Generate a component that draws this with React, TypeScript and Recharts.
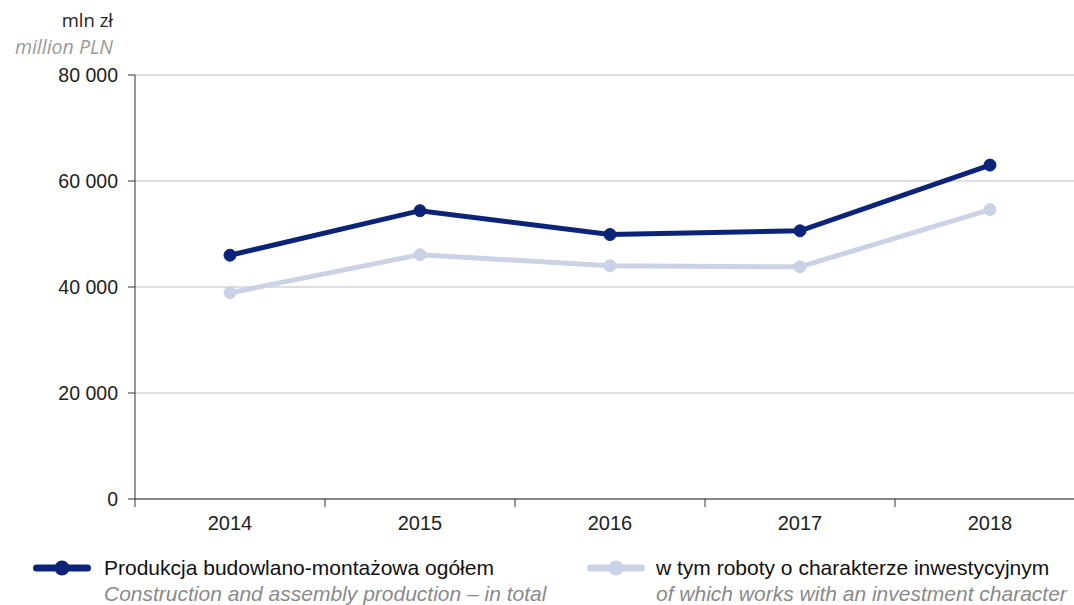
import React from "react";
import { LineChart, Line, XAxis, YAxis, CartesianGrid } from "recharts";

const years = ["2014", "2015", "2016", "2017", "2018"];
const totalProduction = [46000, 54400, 49900, 50600, 63000];
const investmentWorks = [38900, 46100, 44000, 43800, 54600];
const yTicks = [0, 20000, 40000, 60000, 80000];

const seriesNamesPl = ["Produkcja budowlano-montażowa ogółem", "w tym roboty o charakterze inwestycyjnym"];
const seriesNamesEn = ["Construction and assembly production – in total", "of which works with an investment character"];

const DARK = "#0b2479";
const LIGHT = "#cbd2e6";
const FONT = "Liberation Sans, Arial, sans-serif";

const data = years.map((y, i) => ({ year: y, total: totalProduction[i], invest: investmentWorks[i] }));

const fmt = (v: number) => (v === 0 ? "0" : `${Math.round(v / 1000)} 000`);

const XTick = (props: any) => {
  const { x, y, payload, index, visibleTicksCount } = props;
  const half = 95;
  return (
    <g>
      <line x1={x - half} x2={x - half} y1={y - 8} y2={y} stroke="#333" strokeWidth={1} />
      {index === (visibleTicksCount ?? 5) - 1 && (
        <line x1={x + half} x2={x + half} y1={y - 8} y2={y} stroke="#333" strokeWidth={1} />
      )}
      <text x={x} y={y + 23} textAnchor="middle" fontFamily={FONT} fontSize={20} fill="#222">
        {payload.value}
      </text>
    </g>
  );
};

const LegendBlock = () => {
  const items = [
    { color: DARK, iconLeft: 33, textLeft: 104 },
    { color: LIGHT, iconLeft: 587, textLeft: 656 },
  ];
  return (
    <>
      {items.map((it, i) => (
        <React.Fragment key={i}>
          <svg width={60} height={20} style={{ position: "absolute", left: it.iconLeft - 1, top: 558 }}>
            <line x1={4.5} x2={55.5} y1={10} y2={10} stroke={it.color} strokeWidth={7} strokeLinecap="round" />
            <circle cx={30} cy={10} r={7.5} fill={it.color} />
          </svg>
          <div style={{ position: "absolute", left: it.textLeft, top: 556, whiteSpace: "nowrap", fontFamily: FONT, fontSize: 21, color: "#111", lineHeight: "24px" }}>
            {seriesNamesPl[i]}
          </div>
          <div style={{ position: "absolute", left: it.textLeft, top: 582, whiteSpace: "nowrap", fontFamily: FONT, fontSize: 21, fontStyle: "italic", color: "#8a8a8a", lineHeight: "24px" }}>
            {seriesNamesEn[i]}
          </div>
        </React.Fragment>
      ))}
    </>
  );
};

export default function App() {
  return (
    <div style={{ position: "absolute", left: 0, top: 0, width: 1074, height: 605, overflow: "hidden", background: "#fff" }}>
      <div style={{ position: "absolute", right: 1074 - 113, top: 9, fontFamily: "Open Sans, sans-serif", fontSize: 18.5, lineHeight: "22px", color: "#222", whiteSpace: "nowrap", textAlign: "right" }}>
        mln zł
      </div>
      <div style={{ position: "absolute", right: 1074 - 113, top: 35.5, fontFamily: "Open Sans, sans-serif", fontSize: 19.5, lineHeight: "22px", fontStyle: "italic", color: "#9a9a9a", whiteSpace: "nowrap", textAlign: "right" }}>
        million PLN
      </div>
      <div style={{ position: "absolute", left: 0, top: 0 }}>
        <LineChart width={1100} height={605} data={data} margin={{ top: 75, right: 15, bottom: 66, left: 0 }}>
          <CartesianGrid vertical={false} stroke="#bdbdbd" strokeWidth={1} />
          <XAxis
            dataKey="year"
            padding={{ left: 95, right: 95 }}
            axisLine={{ stroke: "#333" }}
            tickLine={false}
            tick={<XTick />}
            height={40}
            interval={0}
          />
          <YAxis
            width={135}
            domain={[0, 80000]}
            ticks={yTicks}
            tickFormatter={fmt}
            axisLine={{ stroke: "#333" }}
            tickLine={{ stroke: "#333" }}
            tickSize={7}
            tickMargin={10}
            tick={{ fontFamily: FONT, fontSize: 19.5, fill: "#222" }}
            interval={0}
          />
          <Line
            dataKey="invest"
            stroke={LIGHT}
            strokeWidth={5}
            dot={{ r: 6, fill: LIGHT, stroke: LIGHT, strokeWidth: 1 }}
            isAnimationActive={false}
          />
          <Line
            dataKey="total"
            stroke={DARK}
            strokeWidth={5}
            dot={{ r: 6, fill: DARK, stroke: DARK, strokeWidth: 1 }}
            isAnimationActive={false}
          />
        </LineChart>
      </div>
      <LegendBlock />
    </div>
  );
}
